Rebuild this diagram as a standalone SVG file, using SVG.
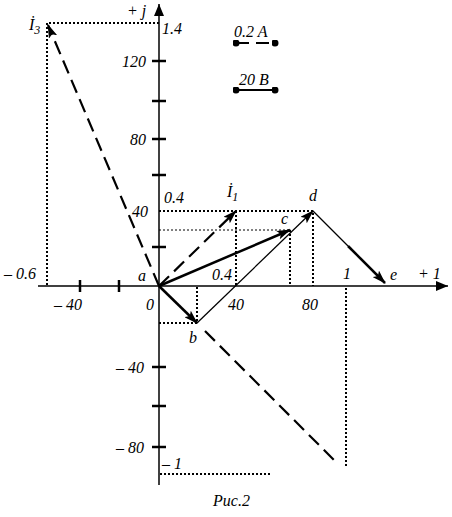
<svg xmlns="http://www.w3.org/2000/svg" width="452" height="517" viewBox="0 0 452 517">
<defs>
<marker id="ah" viewBox="0 0 14 9" refX="13" refY="4.5" markerWidth="14" markerHeight="9" markerUnits="userSpaceOnUse" orient="auto">
<path d="M0,0 L14,4.5 L0,9 L3,4.5 Z" fill="#000"/>
</marker>
<marker id="axh" viewBox="0 0 12 10" refX="12" refY="5" markerWidth="12" markerHeight="10" markerUnits="userSpaceOnUse" orient="auto">
<path d="M0,0 L12,5 L0,10 Z" fill="#000"/>
</marker>
<marker id="dot" viewBox="0 0 8 8" refX="4" refY="4" markerWidth="7" markerHeight="7" markerUnits="userSpaceOnUse">
<circle cx="4" cy="4" r="4" fill="#000"/>
</marker>
</defs>
<style>
text{font-family:"Liberation Serif","Times New Roman",serif;font-style:italic;font-size:16px;fill:#000}
.ax{stroke:#000;stroke-width:1.5;fill:none}
.tick{stroke:#000;stroke-width:2.5}
.dot{stroke:#000;stroke-width:2;stroke-dasharray:2 2;fill:none}
.dotf{stroke:#000;stroke-width:1;stroke-dasharray:2 2;fill:none}
.dash{stroke:#000;stroke-width:2.2;stroke-dasharray:14 7;fill:none}
.thin{stroke:#000;stroke-width:1.3;fill:none}
.thick{stroke:#000;stroke-width:2.5;fill:none}
</style>
<rect width="452" height="517" fill="#fff"/>
<g id="axes">
<line class="ax" x1="159" y1="485" x2="159" y2="4" marker-end="url(#axh)"/>
<line class="ax" x1="38" y1="286" x2="448" y2="286" marker-end="url(#axh)"/>
<g class="tick">
<line x1="152" y1="61" x2="166" y2="61"/>
<line x1="152" y1="101" x2="166" y2="101"/>
<line x1="152" y1="139" x2="166" y2="139"/>
<line x1="152" y1="175" x2="166" y2="175"/>
<line x1="152" y1="247" x2="166" y2="247"/>
<line x1="152" y1="367" x2="166" y2="367"/>
<line x1="152" y1="406" x2="166" y2="406"/>
<line x1="152" y1="447" x2="166" y2="447"/>
<line x1="80" y1="280" x2="80" y2="292"/>
<line x1="119" y1="280" x2="119" y2="292"/>
</g>
<text x="127" y="16">+ j</text>
<text x="162" y="34">1.4</text>
<text x="122" y="67">120</text>
<text x="130" y="145">80</text>
<text x="132" y="217">40</text>
<text x="116" y="373">– 40</text>
<text x="116" y="453">– 80</text>
<text x="54" y="310">– 40</text>
<text x="146" y="310">0</text>
<text x="228" y="310">40</text>
<text x="302" y="310">80</text>
<text x="343" y="279">1</text>
<text x="418" y="279">+ 1</text>
<text x="4" y="279">– 0.6</text>
<text x="164" y="203">0.4</text>
<text x="212" y="280">0.4</text>
<text x="162" y="469">– 1</text>
<text x="213" y="506">Рис.2</text>
</g>
<g id="legend">
<text x="234" y="37">0.2 A</text>
<line x1="236" y1="43" x2="275" y2="43" stroke="#000" stroke-width="2" stroke-dasharray="13 7" marker-start="url(#dot)" marker-end="url(#dot)"/>
<text x="239" y="85">20 B</text>
<line x1="236" y1="90" x2="275" y2="90" stroke="#000" stroke-width="2" marker-start="url(#dot)" marker-end="url(#dot)"/>
</g>
<g id="projections">
<polyline class="dot" points="159,23 47,23 47,286"/>
<polyline class="dot" points="159,211 313,211 313,286"/>
<line class="dot" x1="236" y1="211" x2="236" y2="286"/>
<line class="dot" x1="290" y1="230" x2="290" y2="286"/>
<line class="dotf" x1="159" y1="230" x2="290" y2="230"/>
<polyline class="dot" points="159,323 197,323 197,286"/>
<line class="dot" x1="346" y1="288" x2="346" y2="466"/>
<line class="dot" x1="160" y1="474" x2="272" y2="474"/>
</g>
<g id="connectors">
<line class="dash" x1="159" y1="286" x2="48" y2="25" marker-end="url(#ah)"/>
<line class="dash" x1="159" y1="286" x2="236" y2="211" marker-end="url(#ah)"/>
<line class="dash" x1="205" y1="331" x2="336" y2="462"/>
<line class="thick" x1="159" y1="286" x2="197" y2="323" marker-end="url(#ah)"/>
<line class="thick" x1="159" y1="286" x2="290" y2="230" marker-end="url(#ah)"/>
<line class="thin" x1="197" y1="323" x2="313" y2="211" marker-end="url(#ah)"/>
<line class="thin" x1="313" y1="211" x2="348" y2="246"/>
<line class="thick" x1="348" y1="246" x2="385" y2="283" marker-end="url(#ah)"/>
</g>
<g id="node-I3"><text x="29" y="30">İ<tspan font-size="12" dy="4">3</tspan></text></g>
<g id="node-I1"><text x="227" y="197">İ<tspan font-size="12" dy="4">1</tspan></text></g>
<g id="node-a"><text x="138" y="281">a</text></g>
<g id="node-b"><text x="189" y="343">b</text></g>
<g id="node-c"><text x="281" y="224">c</text></g>
<g id="node-d"><text x="309" y="201">d</text></g>
<g id="node-e"><text x="390" y="280">e</text></g>
</svg>
